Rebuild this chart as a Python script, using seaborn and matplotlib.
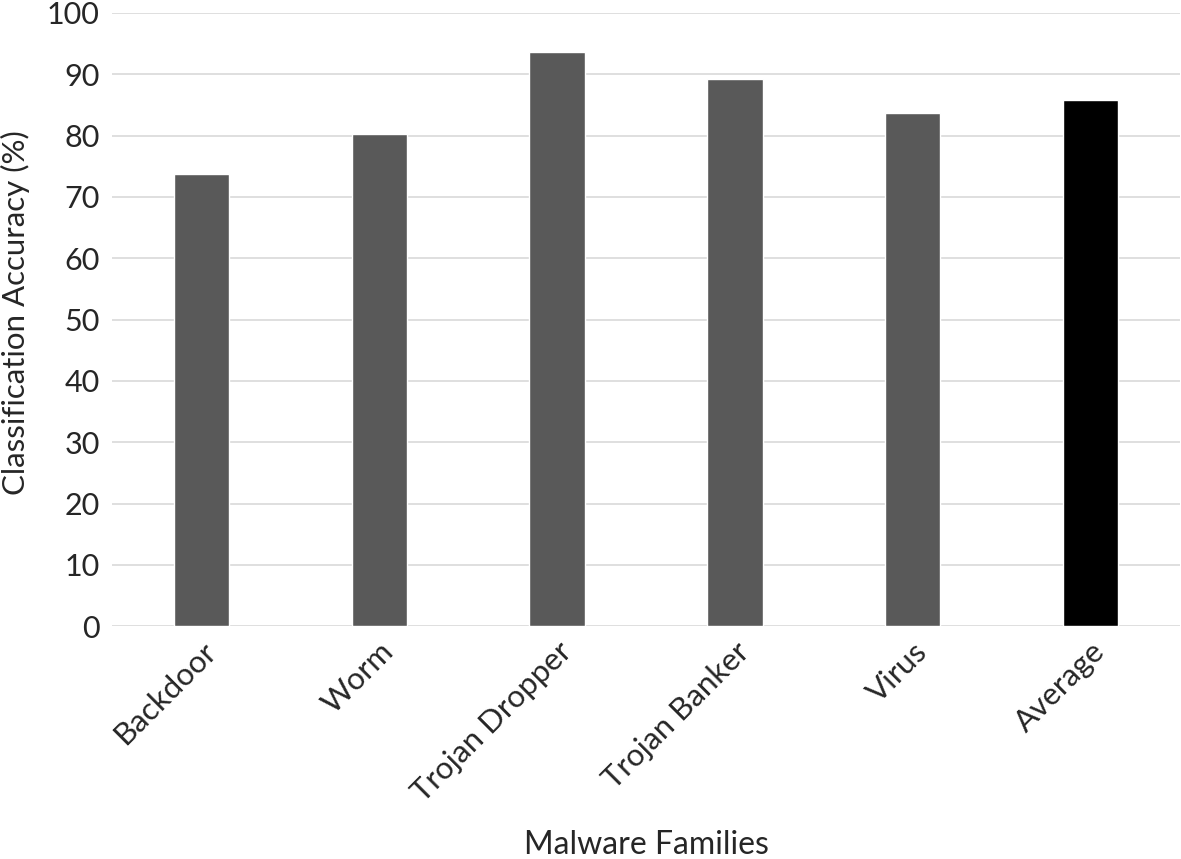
import matplotlib
matplotlib.use("Agg")
import matplotlib.pyplot as plt
import seaborn as sns
import pandas as pd

categories = ["Backdoor", "Worm", "Trojan Dropper", "Trojan Banker", "Virus", "Average"]
accuracy = [73.8, 80.2, 93.6, 89.2, 83.6, 85.8]
bar_colors = ["#595959", "#595959", "#595959", "#595959", "#595959", "#000000"]
y_ticks = [0, 10, 20, 30, 40, 50, 60, 70, 80, 90, 100]

sns.set_theme(style="white")
plt.rcParams['font.family'] = ['Lato', 'DejaVu Sans']

df = pd.DataFrame({"family": categories, "acc": accuracy})

fig = plt.figure(figsize=(11.81, 8.59), dpi=100)
ax = fig.add_axes([0.095, 0.271, 0.904, 0.714])
sns.barplot(data=df, x="family", y="acc", hue="family", palette=bar_colors,
            legend=False, width=0.31, saturation=1, ax=ax, zorder=3)

ax.set_ylim(0, 100)
ax.set_xlim(-0.5, 5.5)
ax.set_yticks(y_ticks)
ax.set_yticklabels([str(t) for t in y_ticks], fontsize=22)
ax.yaxis.grid(True, color="#d9d9d9", linewidth=1.2, zorder=0)
ax.set_axisbelow(True)
for s in ax.spines.values():
    s.set_visible(False)
ax.tick_params(axis="both", length=0)
ax.tick_params(axis="y", pad=9)
ax.set_xticks(range(len(categories)))
ax.set_xticklabels(categories, rotation=45, ha="right", rotation_mode="anchor", fontsize=22.5)
ax.tick_params(axis="x", pad=8)
ax.set_ylabel("Classification Accuracy (%)", fontsize=22.5, va="center")
ax.set_xlabel("Malware Families", fontsize=23, va="center")
ax.xaxis.set_label_coords(0.5, -0.357)
ax.yaxis.set_label_coords(-0.091, 0.512)

fig.savefig("out.png", dpi=100)
